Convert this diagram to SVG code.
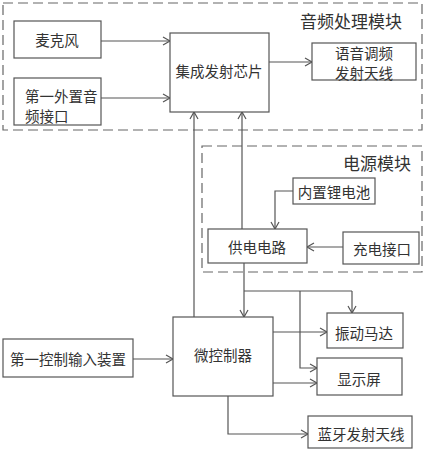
<svg xmlns="http://www.w3.org/2000/svg" width="425" height="450" viewBox="0 0 425 450">
<style>
.box{fill:#fff;stroke:#555;stroke-width:1.2}
.mod{fill:none;stroke:#666;stroke-width:1.2;stroke-dasharray:10 5}
.ln{fill:none;stroke:#555;stroke-width:1.2;marker-end:url(#ah)}
.pl{fill:none;stroke:#555;stroke-width:1.2}
text{font-family:"Noto Sans CJK SC","Noto Sans CJK JP",sans-serif;font-size:14.5px;fill:#333;dominant-baseline:central}
.c{text-anchor:middle}
.t{font-size:17px}
</style>
<defs>
<marker id="ah" markerWidth="10" markerHeight="10" refX="8" refY="5" orient="auto" markerUnits="userSpaceOnUse">
<path d="M1,1 L8,5 L1,9" fill="none" stroke="#555" stroke-width="1.2"/>
</marker>
</defs>
<g id="audio-module">
<rect class="mod" x="3" y="3" width="419" height="127"/>
<text class="t" x="300" y="20">音频处理模块</text>
</g>
<g id="power-module">
<rect class="mod" x="202" y="146" width="220" height="126"/>
<text class="t" x="343" y="162">电源模块</text>
</g>
<g id="connectors">
<path class="ln" d="M101,41 H170"/>
<path class="ln" d="M101,98 H170"/>
<path class="ln" d="M269,62 H312"/>
<path class="ln" d="M194,317 V112"/>
<path class="ln" d="M242,229 V112"/>
<path class="ln" d="M293,191 H275 V229"/>
<path class="ln" d="M343,247 H307"/>
<path class="ln" d="M244,263 V317"/>
<path class="pl" d="M244,291 H352"/>
<path class="ln" d="M352,291 V313"/>
<path class="ln" d="M300,291 V368 H317"/>
<path class="ln" d="M273,332 H327"/>
<path class="ln" d="M273,383 H317"/>
<path class="ln" d="M133,359 H173"/>
<path class="ln" d="M228,396 V434 H308"/>
</g>
<g id="mic">
<rect class="box" x="14" y="21" width="87" height="37"/>
<text class="c" x="57" y="39">麦克风</text>
</g>
<g id="ext-audio">
<rect class="box" x="14" y="78" width="87" height="47"/>
<text x="25" y="95">第一外置音</text>
<text x="25" y="115">频接口</text>
</g>
<g id="chip">
<rect class="box" x="170" y="33" width="99" height="79"/>
<text class="c" x="219" y="70">集成发射芯片</text>
</g>
<g id="fm-antenna">
<rect class="box" x="312" y="43" width="104" height="37"/>
<text class="c" x="364" y="52">语音调频</text>
<text class="c" x="364" y="72">发射天线</text>
</g>
<g id="battery">
<rect class="box" x="293" y="178" width="82" height="26"/>
<text class="c" x="334" y="191">内置锂电池</text>
</g>
<g id="power-circuit">
<rect class="box" x="208" y="229" width="99" height="34"/>
<text class="c" x="257" y="246">供电电路</text>
</g>
<g id="charge-port">
<rect class="box" x="343" y="232" width="76" height="32"/>
<text class="c" x="382" y="248">充电接口</text>
</g>
<g id="input-device">
<rect class="box" x="3" y="339" width="130" height="38"/>
<text class="c" x="68" y="358">第一控制输入装置</text>
</g>
<g id="mcu">
<rect class="box" x="173" y="317" width="100" height="79"/>
<text class="c" x="223" y="354">微控制器</text>
</g>
<g id="vibration-motor">
<rect class="box" x="327" y="313" width="76" height="35"/>
<text class="c" x="364" y="332">振动马达</text>
</g>
<g id="display">
<rect class="box" x="317" y="358" width="85" height="37"/>
<text class="c" x="359" y="378">显示屏</text>
</g>
<g id="bt-antenna">
<rect class="box" x="308" y="416" width="104" height="32"/>
<text class="c" x="361" y="433">蓝牙发射天线</text>
</g>
</svg>
